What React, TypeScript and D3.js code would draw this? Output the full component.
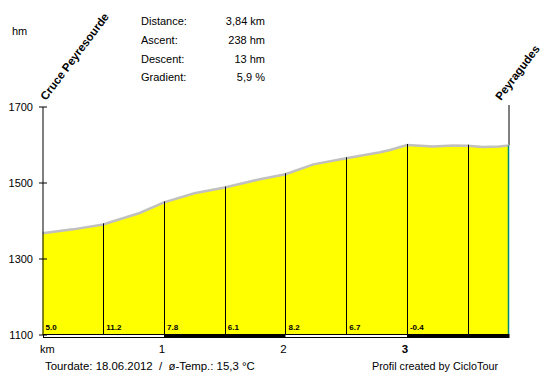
import React from "react";
import * as d3 from "d3";

const distKm = [0, 0.25, 0.5, 0.57, 0.8, 1.0, 1.25, 1.5, 1.79, 2.0, 2.23, 2.5, 2.78, 2.86, 3.0, 3.11, 3.21, 3.38, 3.5, 3.62, 3.76, 3.84];
const elevHm = [1368, 1378, 1391, 1398, 1421, 1449, 1473, 1488, 1510, 1523, 1549, 1565, 1581, 1587, 1600, 1598, 1596, 1599, 1598, 1595, 1596, 1599];
const segStarts = [0, 0.5, 1.0, 1.5, 2.0, 2.5, 3.0, 3.5];
const segGradients = ["5.0", "11.2", "7.8", "6.1", "8.2", "6.7", "-0.4", ""];
const yTicks = [1100, 1300, 1500, 1700];
const kmTicks = [1, 2, 3];
const infoLabels = ["Distance:", "Ascent:", "Descent:", "Gradient:"];
const infoValues = ["3,84 km", "238 hm", "13 hm", "5,9 %"];
const startName = "Cruce Peyresourde";
const endName = "Peyragudes";
const footerLeft = "Tourdate: 18.06.2012  /  ø-Temp.: 15,3 °C";
const footerRight = "Profil created by CicloTour";

const FONT = "'Liberation Sans', Arial, sans-serif";

export default function App() {
  const totalKm = distKm[distKm.length - 1];
  const x = d3.scaleLinear().domain([0, totalKm]).range([42.5, 509]);
  const y = d3.scaleLinear().domain([1100, 1700]).range([335, 107]);
  const pts = distKm.map((d, i) => [d, elevHm[i]] as [number, number]);
  const area = d3.area<[number, number]>().x((d) => x(d[0])).y0(y(1100)).y1((d) => y(d[1]));
  const line = d3.line<[number, number]>().x((d) => x(d[0])).y((d) => y(d[1]));
  const elevAt = (km: number) => {
    const i = d3.bisectRight(distKm, km);
    if (i <= 0) return elevHm[0];
    if (i >= distKm.length) return elevHm[elevHm.length - 1];
    const t = (km - distKm[i - 1]) / (distKm[i] - distKm[i - 1]);
    return elevHm[i - 1] + t * (elevHm[i] - elevHm[i - 1]);
  };
  const barY = 334.5;
  const barH = 3;
  const kmBands = d3.range(0, Math.ceil(totalKm)).map((k) => [k, Math.min(k + 1, totalKm)]);

  return (
    <svg width={550} height={378} style={{ position: "absolute", left: 0, top: 0, background: "#fff" }} fontFamily={FONT}>
      <rect x={0} y={0} width={550} height={378} fill="#fff" />
      <text x={12} y={35} fontSize={11} fill="#000">hm</text>
      {infoLabels.map((l, i) => (
        <g key={l}>
          <text x={141} y={25 + i * 18.8} fontSize={11} fill="#000">{l}</text>
          <text x={265} y={25 + i * 18.8} fontSize={11} fill="#000" textAnchor="end">{infoValues[i]}</text>
        </g>
      ))}
      <text transform={`translate(46,101) rotate(-53)`} fontSize={11.5} fontWeight="bold" fill="#000">{startName}</text>
      <text transform={`translate(501,101) rotate(-53)`} fontSize={11.5} fontWeight="bold" fill="#000">{endName}</text>
      <line x1={x(totalKm)} x2={x(totalKm)} y1={105} y2={y(elevAt(totalKm))} stroke="#000" strokeWidth={1} />

      <path d={area(pts) || ""} fill="#ffff00" />
      <path d={line(pts) || ""} fill="none" stroke="#c0c0c0" strokeWidth={2.5} />
      {segStarts.slice(1).map((k) => (
        <line key={k} x1={Math.round(x(k)) + 0.5} x2={Math.round(x(k)) + 0.5} y1={barY} y2={y(elevAt(k)) - 1} stroke="#000" strokeWidth={1} />
      ))}
      <line x1={x(totalKm) - 0.5} x2={x(totalKm) - 0.5} y1={barY} y2={y(elevAt(totalKm))} stroke="#008878" strokeWidth={1.5} />
      {segStarts.map((k, i) => (
        <text key={k} x={x(k) + 3} y={330} fontSize={8} fontWeight="bold" fill="#000">{segGradients[i]}</text>
      ))}
      <rect x={43.5} y={barY} width={x(totalKm) - 43.5} height={barH} fill="#fff" stroke="#000" strokeWidth={1} />
      {kmBands.filter((_, i) => i % 2 === 1).map(([a, b]) => (
        <rect key={a} x={Math.round(x(a))} y={334} width={x(b) - Math.round(x(a))} height={4} fill="#000" />
      ))}
      <line x1={43} x2={43} y1={y(1700)} y2={y(1100)} stroke="#000" strokeWidth={1} />
      {yTicks.map((t) => (
        <g key={t}>
          <line x1={39} x2={47} y1={y(t)} y2={y(t)} stroke="#000" strokeWidth={1} />
          <text x={33} y={y(t) + 4} fontSize={11} textAnchor="end" fill="#000">{t}</text>
        </g>
      ))}
      <text x={40} y={353} fontSize={11} fill="#000">km</text>
      {kmTicks.map((k) => (
        <text key={k} x={x(k) - 2} y={353} fontSize={11.5} textAnchor="middle" fontWeight={k === 3 ? "bold" : "normal"} fill="#000">{k}</text>
      ))}
      <text x={45} y={370} fontSize={11.4} fill="#000" style={{ whiteSpace: "pre" }}>{footerLeft}</text>
      <text x={372} y={370} fontSize={10.8} fill="#000">{footerRight}</text>
    </svg>
  );
}
